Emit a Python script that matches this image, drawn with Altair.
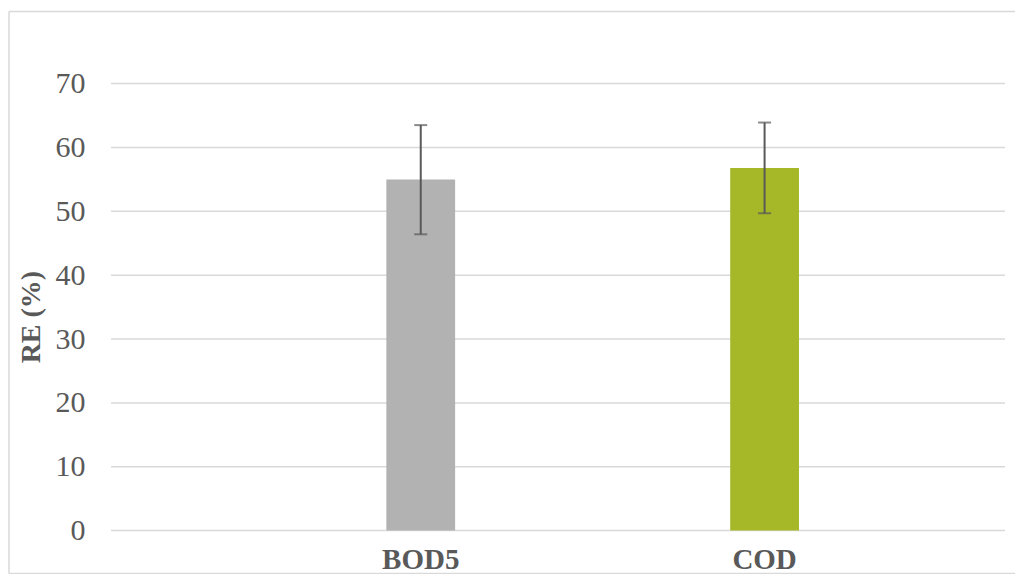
import altair as alt
import pandas as pd

categories = ["BOD5", "COD"]
values = [55.0, 56.8]
err_low = [46.4, 49.7]
err_high = [63.5, 63.9]
colors = ["#B2B2B2", "#A6B727"]
y_ticks = [0, 10, 20, 30, 40, 50, 60, 70]

df = pd.DataFrame({
    "cat": categories,
    "val": values,
    "lo": err_low,
    "hi": err_high,
    "col": colors,
})
grid_df = pd.DataFrame({"tick": y_ticks})

FONT = "Liberation Serif"
GREY = "#595959"

xscale = alt.Scale(domain=categories, paddingInner=0.8, paddingOuter=0.7, align=0.572)
x = alt.X("cat:N", scale=xscale, sort=categories,
          axis=alt.Axis(title=None, labelAngle=0, labelFont=FONT, labelFontSize=29,
                        labelFontWeight="bold", labelColor=GREY, ticks=False, tickSize=0,
                        domain=False, labelPadding=15, grid=False))
yscale = alt.Scale(domain=[0, 70], nice=False)
yaxis = alt.Axis(values=y_ticks, title="RE (%)", titleFont=FONT, titleFontSize=28,
                 titleFontWeight="bold", titleColor=GREY, titleAngle=-90,
                 titleBaseline="bottom", titleX=-66, titleY=233,
                 labelFont=FONT, labelFontSize=30, labelColor=GREY,
                 labelPadding=26, ticks=False, tickSize=0, domain=False,
                 grid=False)

gridlines = alt.Chart(grid_df).mark_rule(color="#D9D9D9", strokeWidth=1.5).encode(
    y=alt.Y("tick:Q", scale=yscale, axis=yaxis),
)

bars = alt.Chart(df).mark_bar().encode(
    x=x,
    y=alt.Y("val:Q", scale=yscale, axis=yaxis),
    color=alt.Color("col:N", scale=None),
)

rules = alt.Chart(df).mark_rule(color=GREY, strokeWidth=2).encode(
    x=x,
    y=alt.Y("lo:Q", scale=yscale, axis=yaxis),
    y2="hi:Q",
)
caps_hi = alt.Chart(df).mark_tick(color=GREY, thickness=2, size=13, orient="horizontal").encode(
    x=x,
    y=alt.Y("hi:Q", scale=yscale, axis=yaxis),
)
caps_lo = alt.Chart(df).mark_tick(color=GREY, thickness=2, size=13, orient="horizontal").encode(
    x=x,
    y=alt.Y("lo:Q", scale=yscale, axis=yaxis),
)

FR = "#D9D9D9"
one = alt.Data(values=[{}])
frame_top = alt.Chart(one).mark_rule(color=FR, strokeWidth=1.5).encode(
    x=alt.value(-102), x2=alt.value(1100), y=alt.value(-72))
frame_bottom = alt.Chart(one).mark_rule(color=FR, strokeWidth=1.5).encode(
    x=alt.value(-102), x2=alt.value(1100), y=alt.value(490))
frame_left = alt.Chart(one).mark_rule(color=FR, strokeWidth=1.5).encode(
    x=alt.value(-102), y=alt.value(-72), y2=alt.value(490))

chart = alt.layer(gridlines, bars, rules, caps_hi, caps_lo, frame_top, frame_bottom, frame_left).properties(
    width=894, height=447,
    autosize=alt.AutoSizeParams(type="none"),
    padding={"left": 103, "top": 75.6, "right": 10, "bottom": 43},
    background="white",
).configure_view(strokeWidth=0, stroke="transparent").configure_axis(domain=False, grid=False)

chart.save("out.html", embed_options={"renderer": "svg", "actions": False})
